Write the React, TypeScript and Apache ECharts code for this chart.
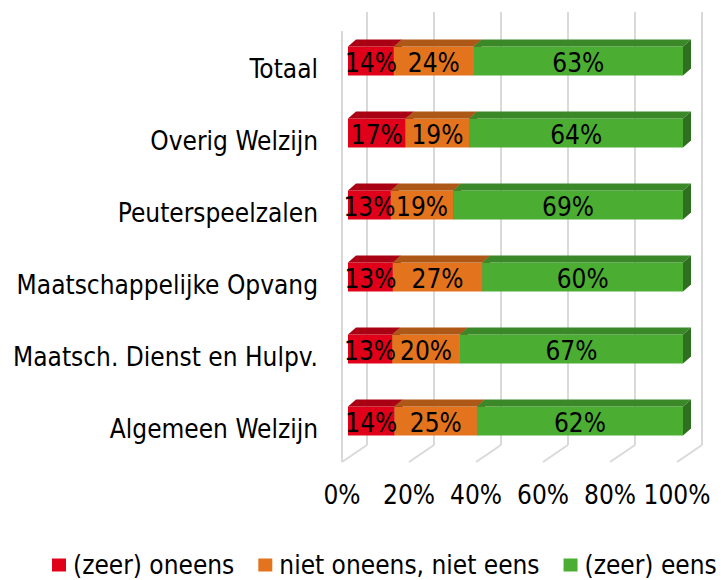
import React, { useEffect, useRef } from 'react';
import * as echarts from 'echarts';

const categories = [
  'Totaal',
  'Overig Welzijn',
  'Peuterspeelzalen',
  'Maatschappelijke Opvang',
  'Maatsch. Dienst en Hulpv.',
  'Algemeen Welzijn',
];
const seriesNames = ['(zeer) oneens', 'niet oneens, niet eens', '(zeer) eens'];
const oneens = [13.7, 17.2, 12.8, 13.4, 13.2, 13.9];
const neutraal = [23.8, 19.0, 18.6, 26.7, 20.2, 24.6];
const eens = [62.5, 63.8, 68.6, 59.9, 66.6, 61.5];
const xTicks = [0, 20, 40, 60, 80, 100];

const FONT = '"DejaVu Sans Condensed", "DejaVu Sans", sans-serif';

const palettes = [
  { front: '#E10019', top: '#A90013', side: '#8A0010' },
  { front: '#E4731E', top: '#AE5818', side: '#8E4813' },
  { front: '#4BAE32', top: '#3A8827', side: '#2F6F20' },
];

const DX = 8;
const DY = 7;
const SHIFT_X = 6;
const SHIFT_Y = -8;
const HALF = 14.5;

function makeBarRender(colors: { front: string; top: string; side: string }) {
  return (params: any, api: any) => {
    const start = api.value(0);
    const end = api.value(1);
    const cat = api.value(2);
    const p0 = api.coord([start, cat]);
    const p1 = api.coord([end, cat]);
    const x0 = p0[0] + SHIFT_X;
    const x1 = p1[0] + SHIFT_X;
    const cy = p0[1] + SHIFT_Y;
    const yT = cy - HALF;
    const yB = cy + HALF;
    return {
      type: 'group',
      children: [
        {
          type: 'polygon',
          shape: { points: [[x0, yT], [x1, yT], [x1, yB], [x0, yB]] },
          style: { fill: colors.front },
        },
        {
          type: 'polygon',
          shape: { points: [[x0, yT], [x1, yT], [x1 + DX, yT - DY], [x0 + DX, yT - DY]] },
          style: { fill: colors.top },
        },
        {
          type: 'polygon',
          shape: { points: [[x1, yT], [x1 + DX, yT - DY], [x1 + DX, yB - DY], [x1, yB]] },
          style: { fill: colors.side },
        },
        {
          type: 'text',
          z2: 100,
          style: {
            text: Math.round(end - start) + '%',
            x: (x0 + x1) / 2,
            y: cy + 1.5,
            align: 'center',
            verticalAlign: 'middle',
            fill: '#000',
            fontSize: 26,
            fontFamily: FONT,
          },
        },
      ],
    };
  };
}

function gridRender(params: any, api: any) {
  const v = api.value(0);
  const cs = params.coordSys;
  const fx = api.coord([v, 0])[0];
  const floorY = cs.y + cs.height - 3;
  const bx = fx + 25;
  const by = floorY - 17;
  const backTop = cs.y - 21;
  const lineStyle = { stroke: '#D9D9D9', lineWidth: 2 };
  const children: any[] = [
    { type: 'line', shape: { x1: bx, y1: backTop, x2: bx, y2: by }, style: lineStyle },
    { type: 'line', shape: { x1: fx, y1: floorY, x2: bx, y2: by }, style: lineStyle },
  ];
  if (v === 0) {
    children.push({
      type: 'line',
      shape: { x1: fx, y1: cs.y - 2, x2: fx, y2: floorY },
      style: lineStyle,
    });
  }
  return { type: 'group', children };
}

export default function App() {
  const ref = useRef<HTMLDivElement>(null);
  useEffect(() => {
    if (!ref.current) return;
    const chart = echarts.init(ref.current, undefined, { renderer: 'svg' });
    const groups = [oneens, neutraal, eens];
    const seriesData = groups.map((arr, si) =>
      arr.map((v, ci) => {
        let start = 0;
        for (let k = 0; k < si; k++) start += groups[k][ci];
        return [start, start + v, ci];
      })
    );
    chart.setOption({
      animation: false,
      textStyle: { fontFamily: FONT },
      grid: { left: 342, top: 33, width: 335, height: 432, containLabel: false },
      xAxis: {
        type: 'value',
        min: 0,
        max: 100,
        interval: 20,
        axisLine: { show: false },
        axisTick: { show: false },
        splitLine: { show: false },
        axisLabel: {
          formatter: '{value}%',
          fontSize: 26,
          fontFamily: FONT,
          color: '#000',
          margin: 17,
        },
      },
      yAxis: {
        type: 'category',
        data: categories,
        inverse: true,
        axisLine: { show: false },
        axisTick: { show: false },
        splitLine: { show: false },
        axisLabel: {
          fontSize: 26,
          fontFamily: FONT,
          color: '#000',
          margin: 24,
        },
      },
      legend: {
        data: seriesNames,
        left: 52,
        top: 552,
        width: 690,
        padding: 0,
        icon: 'rect',
        itemWidth: 14,
        itemHeight: 13,
        itemGap: 24,
        textStyle: { fontSize: 26, fontFamily: FONT, color: '#000', padding: [0, 0, 0, 2] },
      },
      series: [
        {
          type: 'custom',
          name: 'grid',
          silent: true,
          renderItem: gridRender,
          data: xTicks.map((t) => [t, 0]),
          encode: { x: 0, y: 1 },
          clip: false,
          z: 1,
        },
        ...seriesNames.map((name, si) => ({
          type: 'custom',
          name,
          renderItem: makeBarRender(palettes[si]),
          itemStyle: { color: palettes[si].front },
          data: seriesData[si],
          encode: { x: [0, 1], y: 2 },
          clip: false,
          z: 2,
        })),
      ],
    });
    return () => chart.dispose();
  }, []);
  return (
    <div
      ref={ref}
      style={{ position: 'fixed', left: 0, top: 0, width: 721, height: 580, background: '#fff' }}
    />
  );
}
